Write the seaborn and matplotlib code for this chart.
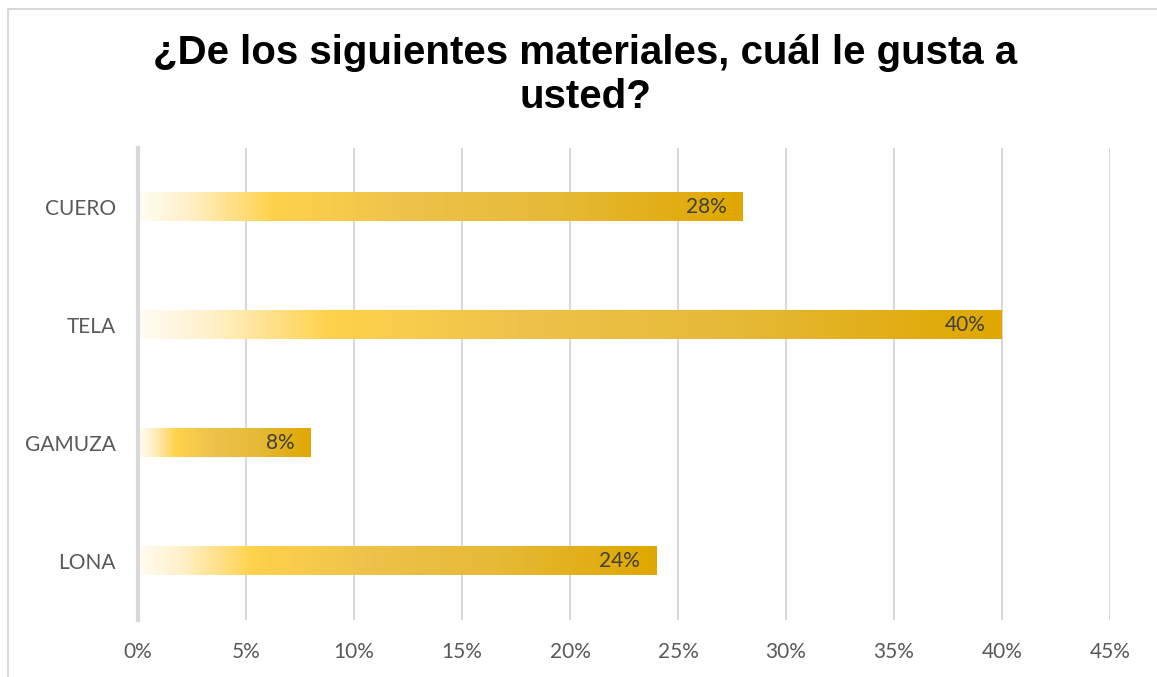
import numpy as np
import pandas as pd
import matplotlib
matplotlib.use("Agg")
import matplotlib.pyplot as plt
from matplotlib.colors import LinearSegmentedColormap
from matplotlib.lines import Line2D
import seaborn as sns

# Survey answers: share of respondents per material
categories = ["CUERO", "TELA", "GAMUZA", "LONA"]
shares = [0.28, 0.40, 0.08, 0.24]
value_labels = ["28%", "40%", "8%", "24%"]
xticks = [0.00, 0.05, 0.10, 0.15, 0.20, 0.25, 0.30, 0.35, 0.40, 0.45]
xtick_labels = ["0%", "5%", "10%", "15%", "20%", "25%", "30%", "35%", "40%", "45%"]

df = pd.DataFrame({"material": categories, "share": shares})

sns.set_theme(style="white")
plt.rcParams["font.family"] = ["Lato", "DejaVu Sans"]

W, H = 1157, 677
fig = plt.figure(figsize=(W / 100, H / 100), dpi=100)
ax = fig.add_axes([138 / W, 1 - 620 / H, (1110 - 138) / W, (620 - 148) / H])

sns.barplot(data=df, x="share", y="material", order=categories, orient="h",
            width=0.24, ax=ax, color="#E0A800", saturation=1)

# gold gradient, running from white at the base to deep gold at the tip
grad = LinearSegmentedColormap.from_list(
    "gold",
    [(0.0, "#FFFCF2"), (0.08, "#FFF1CC"), (0.22, "#FFD24C"),
     (0.45, "#EDC24A"), (0.7, "#E6B936"), (1.0, "#DFA700")])
ramp = np.linspace(0, 1, 256).reshape(1, -1)
for patch in ax.patches:
    x0, y0 = patch.get_x(), patch.get_y()
    w, h = patch.get_width(), patch.get_height()
    ax.imshow(ramp, cmap=grad, aspect="auto", extent=(x0, x0 + w, y0 + h, y0),
              zorder=2, interpolation="bilinear")
    patch.set_visible(False)

ax.set_xlim(0, 0.45)
ax.set_ylim(3.5, -0.5)

# value labels inside the bar ends
for i, (v, lab) in enumerate(zip(shares, value_labels)):
    ax.text(v - 0.0075, i, lab, ha="right", va="center", fontsize=15,
            color="#404040", zorder=3)

ax.set_xticks(xticks)
ax.set_xticklabels(xtick_labels, fontsize=15, color="#595959")
ax.tick_params(axis="y", labelsize=15, labelcolor="#595959", length=0, pad=16)
ax.tick_params(axis="x", length=0, pad=16)
ax.set_xlabel("")
ax.set_ylabel("")

ax.grid(axis="x", color="#D9D9D9", linewidth=1.5, zorder=0)
ax.set_axisbelow(True)
for side in ["top", "right", "bottom"]:
    ax.spines[side].set_visible(False)
ax.spines["left"].set_color("#D9D9D9")
ax.spines["left"].set_linewidth(3)
ax.spines["left"].set_zorder(4)

fig.text(585 / W, 1 - 75 / H, "¿De los siguientes materiales, cuál le gusta a\nusted?",
         ha="center", va="center", fontsize=29, fontweight="bold",
         family=["Liberation Sans", "DejaVu Sans"], color="#000000",
         linespacing=1.22)

# chart frame edges
fig.add_artist(Line2D([8 / W, 8 / W], [0, 1 - 9 / H], transform=fig.transFigure,
                      color="#D9D9D9", linewidth=1.5))
fig.add_artist(Line2D([8 / W, 1], [1 - 9 / H, 1 - 9 / H], transform=fig.transFigure,
                      color="#D9D9D9", linewidth=1.5))

fig.savefig("out.png", dpi=100, facecolor="white")
